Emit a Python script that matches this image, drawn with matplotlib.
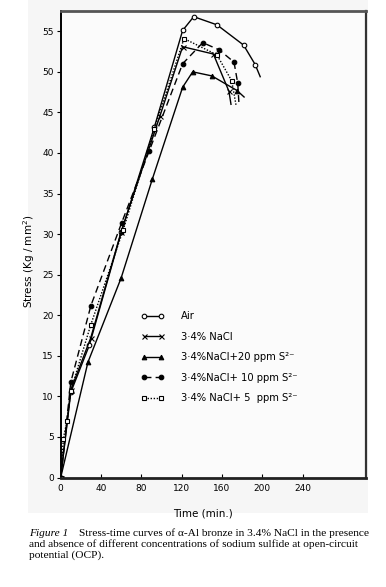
import matplotlib
matplotlib.use("Agg")
import matplotlib.pyplot as plt
from matplotlib.lines import Line2D
from matplotlib.patches import Rectangle

# ---- data (time in min, stress in Kg/mm^2) ----
air_t = [0, 10, 28.4, 60, 93, 121, 132, 155, 181.5, 193, 198]
air_s = [0, 10.5, 16.3, 30.2, 43.2, 55.1, 56.8, 55.8, 53.3, 50.9, 49.4]

nacl_t = [0, 10, 29.8, 60, 98.6, 121, 151.5, 167, 169]
nacl_s = [0, 10.8, 17.2, 30.3, 44.6, 53.1, 52.2, 47.6, 46.0]

s20_t = [0, 27, 60, 91, 121, 131, 150, 175, 182]
s20_s = [0, 14.2, 24.6, 36.8, 48.1, 50.0, 49.5, 47.7, 46.9]

s10_t = [0, 10, 30, 60.5, 88, 121, 141, 157.4, 172, 175.7, 177]
s10_s = [0, 11.75, 21.2, 31.4, 40.3, 51.0, 53.6, 52.7, 51.2, 48.6, 45.9]

s5_t = [0, 2.6, 6.3, 10, 29.8, 62, 93, 122.4, 155, 169.7, 174]
s5_s = [0, 4.8, 7.0, 10.7, 18.8, 30.5, 43.0, 54.1, 52.1, 48.9, 45.9]

labels = ["Air", "3·4% NaCl", "3·4%NaCl+20 ppm S²⁻",
          "3·4%NaCl+ 10 ppm S²⁻", "3·4% NaCl+ 5  ppm S²⁻"]

x_ticks = [0, 40, 80, 120, 160, 200, 240]
y_ticks = [0, 5, 10, 15, 20, 25, 30, 35, 40, 45, 50, 55]

caption_head = "Figure 1"
caption_lines = ["Stress-time curves of α-Al bronze in 3.4% NaCl in the presence",
                 "and absence of different concentrations of sodium sulfide at open-circuit",
                 "potential (OCP)."]

W, H = 386, 587
fig = plt.figure(figsize=(W / 100, H / 100), dpi=100)
fig.patch.set_facecolor("white")
bg = Rectangle((28 / W, 1 - 513 / H), (368 - 28) / W, 513 / H,
               transform=fig.transFigure, facecolor="#f6f6f6", edgecolor="none", zorder=-10)
fig.patches.append(bg)

ax = fig.add_axes([60.7 / W, 1 - 477.5 / H, (366 - 60.7) / W, (477.5 - 11) / H])
ax.set_facecolor("#fbfbfb")
ax.set_xlim(0, 303)
ax.set_ylim(0, 57.5)

series = [
    (air_t, air_s, "-", "o", "white"),
    (nacl_t, nacl_s, "-", "x", "black"),
    (s20_t, s20_s, "-", "^", "black"),
    (s10_t, s10_s, (0, (5, 3)), "o", "black"),
    (s5_t, s5_s, (0, (1, 1.2)), "s", "white"),
]
handles = []
for (t, s, ls, mk, fc), lab in zip(series, labels):
    ms = 3.6 if mk == "x" else 3.3
    if mk == "s":
        ms = 2.8
    ax.plot(t, s, color="black", lw=1.0, ls=ls, marker=mk, ms=ms,
            mfc=fc, mec="black", mew=0.8, markevery=list(range(len(t) - 1)))
    handles.append(Line2D([0, 1], [0, 0], color="black", lw=1.0, ls=ls, marker=mk,
                          ms=ms, mfc=fc, mec="black", mew=0.8))

leg = ax.legend(handles, labels, loc="upper left",
                bbox_to_anchor=((141 - 60.7) / 305.3, (477 - 311) / 466),
                frameon=False, fontsize=7.2, handlelength=2.25, handletextpad=1.75,
                labelspacing=1.05, borderpad=0, borderaxespad=0, numpoints=2)

ax.set_xticks(x_ticks)
ax.set_yticks(y_ticks)
ax.tick_params(axis="x", direction="in", length=3, width=0.8, labelsize=6.5, pad=5)
ax.tick_params(axis="y", direction="out", length=3, width=0.8, labelsize=6.5, pad=2)

for side, lw, col in [("top", 2.0, "#555555"), ("right", 1.6, "#333333"),
                      ("left", 1.4, "black"), ("bottom", 2.0, "#222222")]:
    ax.spines[side].set_linewidth(lw)
    ax.spines[side].set_color(col)

ax.set_xlabel("Time (min.)", fontsize=7.5)
ax.xaxis.set_label_coords((203 - 60.7) / 305.3, (477 - 508) / 466)
ax.set_ylabel("Stress (Kg / mm$^2$)", fontsize=7.5)
ax.yaxis.set_label_coords((37 - 60.7) / 305.3, (477 - 261) / 466)

cap_fs = 8.2
fig.text(29 / W, 1 - 533 / H, caption_head, family="Liberation Serif", style="italic",
         fontsize=cap_fs, va="center", ha="left")
fig.text(79 / W, 1 - 533 / H, caption_lines[0], family="Liberation Serif",
         fontsize=cap_fs, va="center", ha="left")
fig.text(29 / W, 1 - 544 / H, caption_lines[1], family="Liberation Serif",
         fontsize=cap_fs, va="center", ha="left")
fig.text(29 / W, 1 - 555 / H, caption_lines[2], family="Liberation Serif",
         fontsize=cap_fs, va="center", ha="left")

fig.savefig("out.png", dpi=100)
